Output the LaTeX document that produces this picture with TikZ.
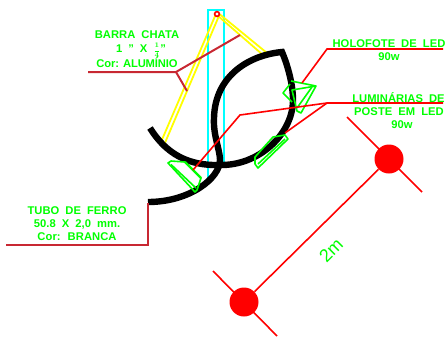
\documentclass[tikz,border=0pt]{standalone}
\usepackage{fontspec}
\setmainfont[LetterSpace=0.5,WordSpace=1.9]{Liberation Sans}
\newfontfamily\tightfont[LetterSpace=-1,WordSpace=1,BoldFont={Liberation Sans Bold}]{Liberation Sans}
\definecolor{cadgreen}{RGB}{0,255,0}
\definecolor{cadred}{RGB}{255,0,0}
\definecolor{cadcyan}{RGB}{0,255,255}
\definecolor{cadyellow}{RGB}{255,255,0}
\definecolor{darkleader}{RGB}{200,40,50}
\tikzset{
  label/.style={text=cadgreen,align=center,font=\fontsize{11.2}{12.8}\selectfont\bfseries,inner sep=0pt},
  leader/.style={cadred,line width=1.6pt},
  darkline/.style={darkleader,line width=2pt},
  tube/.style={line width=6.4pt,black,line join=miter},
  yellowbar/.style={cadyellow,line width=1.8pt},
  lamp/.style={cadgreen,line width=1.6pt,line join=round},
  post/.style={cadred,fill=cadred,draw=none}
}
\begin{document}
\begin{tikzpicture}[x=1pt,y=-1pt]
    \useasboundingbox (0,0) rectangle (448,338);
    % poste
    \draw[cadcyan,line width=1.8pt] (208,178) -- (208,10) -- (224,10) -- (224,165);
    % barras
    \coordinate (top) at (217,14);
    \draw[yellowbar] (215.5,15) -- (161,142);
    \draw[yellowbar] (218.5,17) -- (164.5,144);
    \draw[yellowbar] (217,15) -- (263,55);
    \draw[yellowbar] (220,14.5) -- (267,53);
    \draw[cadred,line width=1.6pt,fill=white] (top) circle (2.4);
    % tubos
    \draw[tube] (150,128) .. controls (170,160) and (196,166) .. (223,165)
      .. controls (262,164) and (293,132) .. (293,100)
      .. controls (293,85) and (288,66) .. (282,52)
      .. controls (250,55) and (215,75) .. (214,118)
      .. controls (213,135) and (220,150) .. (220,160)
      .. controls (220,178) and (190,202) .. (148,202);
    % luminarias
    \draw[lamp] (168,163) -- (171,161) -- (185,162) -- (201,178) -- (197,190) -- (195,192) -- cycle;
    \draw[lamp] (171,164.5) -- (196,188);
    \draw[lamp,line width=2.4pt] (185,162) -- (201,178);
    \draw[lamp] (258,168) -- (255,164) -- (255,157) -- (273,137) -- (285,135) -- (288,139) -- cycle;
    \draw[lamp] (258,164) -- (285,139);
    \draw[lamp] (291,81) -- (316,86) -- (301,113) -- (297,111) -- (292,90) -- (316,86);
    \draw[lamp] (297,108) -- (312,87);
    \draw[lamp] (290,84) -- (283,93) -- (292,102);
    % chamadas
    \coordinate (holoa) at (302,83);
    \coordinate (holob) at (327,49);
    \coordinate (holoc) at (443,49);
    \draw[leader] (holoa) -- (holob) -- (holoc);
    \coordinate (luma) at (193,170);
    \coordinate (lumb) at (240,115);
    \coordinate (lumc) at (327,103);
    \coordinate (lumd) at (443,103);
    \coordinate (lume) at (285,133);
    \draw[leader] (luma) -- (lumb) -- (lumc) -- (lumd);
    \draw[leader] (lume) -- (lumc);
    \coordinate (chataa) at (88,72);
    \coordinate (chatab) at (176,72);
    \draw[darkline] (chataa) -- (chatab) -- (240,35);
    \draw[darkline] (chatab) -- (187,91);
    \coordinate (feroa) at (6,245);
    \coordinate (ferob) at (148,245);
    \draw[darkline] (feroa) -- (ferob) -- (148,203);
    % textos
    \node[label,anchor=base] (chata) at (137,38) {BARRA CHATA};
    \node[label,anchor=base] (chatb) at (141,52.5) {1 " X {\fontsize{7.5}{8}\selectfont\boldmath$\displaystyle\frac{1}{4}$}"};
    \node[label,anchor=base] (chatc) at (137,67) {\tightfont\bfseries Cor: ALUMÍNIO};
    \node[label,anchor=base] (holofote) at (389,47) {HOLOFOTE DE LED};
    \node[label,anchor=base] (holow) at (389,60) {90w};
    \node[label,anchor=base] (lumi) at (398.5,102.5) {LUMINÁRIAS DE};
    \node[label,anchor=base] (lumj) at (399,115) {POSTE EM LED};
    \node[label,anchor=base] (lumk) at (402,128) {90w};
    \node[label,anchor=base] (tuboa) at (77,214.5) {TUBO DE FERRO};
    \node[label,anchor=base] (tubob) at (77,227) {50.8 X 2,0 mm.};
    \node[label,anchor=base] (tuboc) at (77,240) {Cor: BRANCA};
    % postes
    \node[post,circle,minimum size=29pt,inner sep=0pt] (posta) at (389,159) {};
    \node[post,circle,minimum size=29pt,inner sep=0pt] (postb) at (244,302) {};
    \coordinate (posta1) at (347,117);
    \coordinate (posta2) at (422,192);
    \coordinate (postb1) at (213,271);
    \coordinate (postb2) at (277,336);
    \draw[leader] (posta1) -- (posta2);
    \draw[leader] (postb1) -- (postb2);
    \draw[leader] (posta) -- (postb);
    \node[label,rotate=45,font=\fontsize{18}{18}\selectfont] (dist) at (331,250) {2m};
\end{tikzpicture}
\end{document}
